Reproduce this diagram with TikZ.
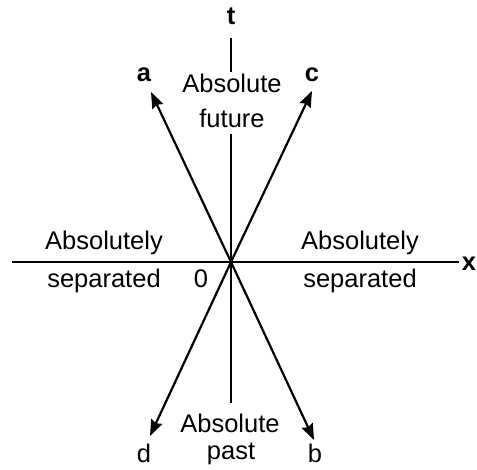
\documentclass[tikz,border=0pt]{standalone}
\usepackage{fontspec}
\setmainfont{Liberation Sans}
\usetikzlibrary{arrows.meta}
\begin{document}
\begin{tikzpicture}[x=1pt,y=-1pt,
  lbl/.style={font=\fontsize{25.5}{29}\selectfont, inner sep=0pt, anchor=base},
  letter/.style={lbl, font=\fontsize{25.5}{29}\selectfont\bfseries},
  axis/.style={line width=2pt},
  ray/.style={line width=2.2pt, -{Stealth[length=16pt,width=12pt,inset=2pt]}}]
\useasboundingbox (0,0) rectangle (477,470);
% coordinates
\coordinate (O) at (231,262);
\coordinate (tTop) at (231,38);
\coordinate (tMid) at (231,72);
\coordinate (fBot) at (231,134);
\coordinate (pTop) at (231,403);
\coordinate (xL) at (12,262);
\coordinate (xR) at (459,262);
\coordinate (aTip) at (151,92);
\coordinate (bTip) at (314,440);
\coordinate (cTip) at (312,91);
\coordinate (dTip) at (150,436);
% axes
\draw[axis] (tTop) -- (tMid);
\draw[axis] (fBot) -- (pTop);
\draw[axis] (xL) -- (xR);
% world lines
\draw[ray] (O) -- (aTip);
\draw[ray] (O) -- (bTip);
\draw[ray] (O) -- (cTip);
\draw[ray] (O) -- (dTip);
% labels
\node[letter] (t) at (231,25) {t};
\node[letter] (x) at (469,271) {x};
\node[letter] (a) at (144,82) {a};
\node[letter] (c) at (312,82) {c};
\node[lbl] (d) at (144,462) {d};
\node[lbl] (b) at (315,462) {b};
\node[lbl] (zero) at (201,288) {0};
\node[lbl] (fut1) at (232,93) {Absolute};
\node[lbl] (fut2) at (232,128) {future};
\node[lbl] (past1) at (230,433) {Absolute};
\node[lbl] (past2) at (231,460) {past};
\node[lbl] (sepL1) at (104,250) {Absolutely};
\node[lbl] (sepL2) at (104,288) {separated};
\node[lbl] (sepR1) at (360,250) {Absolutely};
\node[lbl] (sepR2) at (360,288) {separated};
\end{tikzpicture}
\end{document}
